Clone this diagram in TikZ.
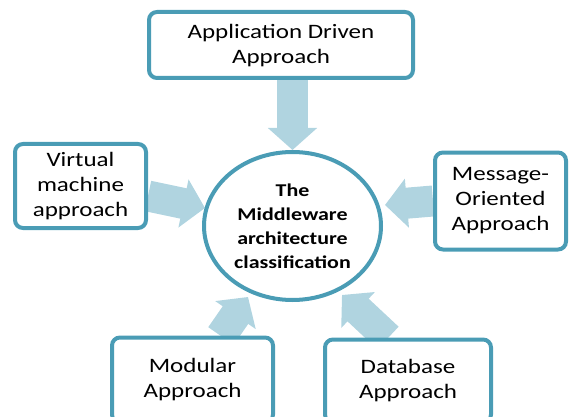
\documentclass[tikz,border=0pt]{standalone}
\usepackage{fontspec}
\setmainfont[FakeStretch=1.22]{Carlito}
\usetikzlibrary{shapes.geometric,arrows.meta,calc,backgrounds}
\definecolor{teal}{RGB}{74,156,181}
\definecolor{arrowblue}{RGB}{176,212,224}
\tikzset{
  box/.style={draw=teal, line width=4pt, fill=white, rounded corners=8pt, align=center,
    font=\fontsize{20.5}{25}\selectfont, inner sep=0pt},
  hub/.style={ellipse, draw=teal, line width=4pt, fill=white, align=center,
    font=\bfseries\fontsize{18}{24}\selectfont, inner sep=0pt, minimum width=177pt, minimum height=148pt},
  bigarrow/.style={draw=arrowblue, line width=31pt,
    -{Triangle[width=48pt,length=22pt]}}
}
\begin{document}
\begin{tikzpicture}[x=1pt,y=-1pt]
\useasboundingbox (0,0) rectangle (570,417);
% nodes
\node[hub] (circ) at (292.5,226) {The\\Middleware\\architecture\\classification};
\node[box, minimum width=264pt, minimum height=66pt, text depth=2pt] (top) at (281,45) {Application Driven\\Approach};
\node[box, minimum width=131pt, minimum height=84pt] (vm) at (80.5,186) {Virtual\\machine\\approach};
\node[box, minimum width=131pt, minimum height=97pt] (msg) at (500.5,201) {Message-\\Oriented\\Approach};
\node[box, minimum width=161pt, minimum height=85pt] (mod) at (192.5,380) {Modular\\Approach};
\node[box, minimum width=166pt, minimum height=83pt] (db) at (408,381) {Database\\Approach};
% coordinates for arrow ends
\coordinate (vmS) at ($(vm.east)+(0,10)$);
\coordinate (msgS) at ($(msg.west)+(0,0)$);
\coordinate (modS) at (221,336);
\coordinate (dbS) at (388,338);
\coordinate (tipL) at (205,208);
\coordinate (tipR) at (385,205);
\coordinate (tipBL) at (248,297);
\coordinate (tipBR) at (342,295);
% arrows behind
\begin{scope}[on background layer]
  \draw[bigarrow] (top.south -| circ) -- (circ.north);
  \draw[bigarrow] (vmS) -- (tipL);
  \draw[bigarrow] (msgS) -- (tipR);
  \draw[bigarrow] (modS) -- (tipBL);
  \draw[bigarrow] (dbS) -- (tipBR);
\end{scope}
\end{tikzpicture}
\end{document}
